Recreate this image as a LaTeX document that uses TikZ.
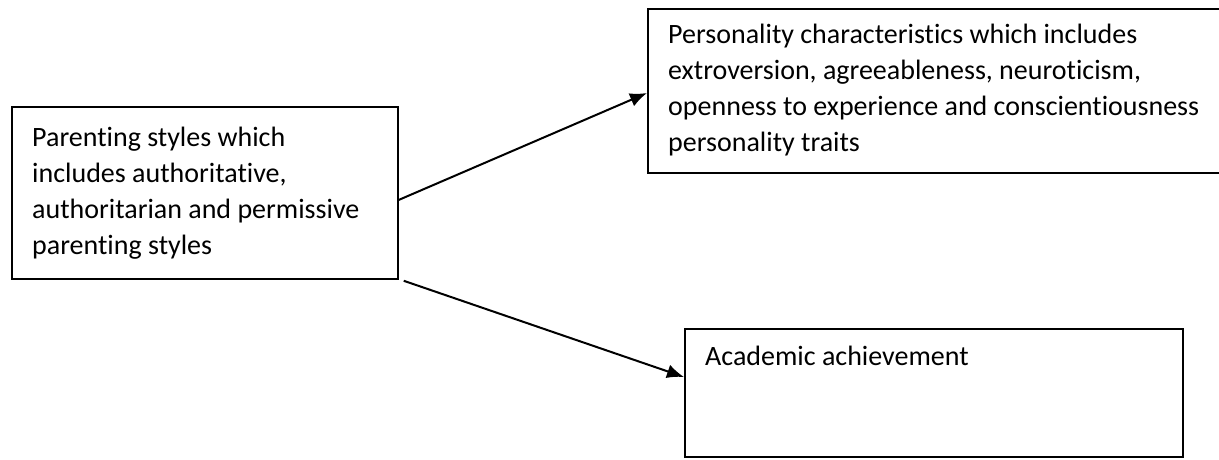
\documentclass[tikz,border=0pt]{standalone}
\usepackage{fontspec}
\setmainfont{Carlito}[Ligatures={NoCommon}]
\usetikzlibrary{arrows.meta}
\begin{document}
\begin{tikzpicture}[x=1pt,y=1pt,
  boxnode/.style={draw=black, line width=1.8pt, rectangle, inner sep=0pt, anchor=north west},
  txt/.style={anchor=base west, inner sep=0pt, align=left, font=\fontsize{28}{36}\selectfont},
  conn/.style={draw=black, line width=2pt, -{Latex[length=17pt,width=14pt]}}]
\useasboundingbox (0,0) rectangle (1219,459);
\clip (0,0) rectangle (1219,459);
% boxes (image y converted: y = 459 - y_img)
\node[boxnode, minimum width=386pt, minimum height=172pt] (parent) at (11,353) {};
\node[boxnode, minimum width=600pt, minimum height=164pt] (pers) at (647,451) {};
\node[boxnode, minimum width=498pt, minimum height=128pt] (acad) at (684,131) {};
% texts (base anchor = baseline of the last line)
\node[txt] (ptext) at (32,205) {Parenting styles which\\includes authoritative,\\authoritarian and permissive\\parenting styles};
\node[txt] (perstext) at (668,308) {Personality characteristics which includes\\extroversion, agreeableness, neuroticism,\\openness to experience and conscientiousness\\personality traits};
\node[txt] (acadtext) at (705,94) {Academic achievement};
% connectors
\draw[conn] ([yshift=-7pt]parent.east) -- ([yshift=-85pt]pers.north west);
\draw[conn] ([xshift=5pt,yshift=-1pt]parent.south east) -- ([yshift=-49pt]acad.north west);
\end{tikzpicture}
\end{document}
